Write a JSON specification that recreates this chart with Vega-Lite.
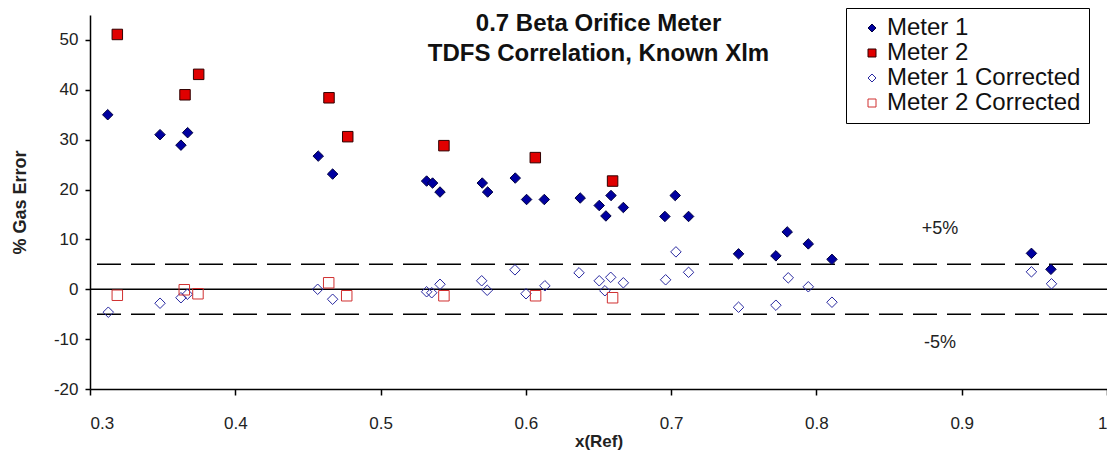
{
  "$schema": "https://vega.github.io/schema/vega-lite/v6.json",
  "width": 1017,
  "height": 374,
  "autosize": {"type": "none"},
  "padding": {"left": 90, "top": 15, "right": 0, "bottom": 64},
  "background": "white",
  "config": {
    "font": "Liberation Sans",
    "view": {"stroke": null},
    "axis": {"grid": false, "domainColor": "black", "tickColor": "black", "labelColor": "#222", "labelFont": "Liberation Sans", "titleFont": "Liberation Sans", "titleColor": "#222"}
  },
  "title": {
    "text": ["0.7 Beta Orifice Meter", "TDFS Correlation, Known Xlm"],
    "anchor": "middle",
    "frame": "group",
    "baseline": "top",
    "offset": -2,
    "dy": 56,
    "fontSize": 24,
    "lineHeight": 30,
    "fontWeight": "bold",
    "font": "Liberation Sans",
    "color": "#111"
  },
  "layer": [
    {
      "data": {"values": [{"y": 0}]},
      "mark": {"type": "rule", "color": "black", "strokeWidth": 1.5},
      "encoding": {"y": {"field": "y", "type": "quantitative"}}
    },
    {
      "data": {"values": [{"y": 5}, {"y": -5}]},
      "mark": {"type": "rule", "color": "black", "strokeWidth": 1.5, "strokeDash": [24, 10]},
      "encoding": {"y": {"field": "y", "type": "quantitative"}}
    },
    {
      "data": {"values": [{"x": 0.885, "y": 12, "t": "+5%"}, {"x": 0.885, "y": -10.7, "t": "-5%"}]},
      "mark": {"type": "text", "fontSize": 18, "color": "#222", "font": "Liberation Sans"},
      "encoding": {
        "x": {"field": "x", "type": "quantitative"},
        "y": {"field": "y", "type": "quantitative"},
        "text": {"field": "t"}
      }
    },
    {
      "data": {"values": [
        {"x": 0.3122, "y": 35.0, "series": "Meter 1"},
        {"x": 0.3482, "y": 31.0, "series": "Meter 1"},
        {"x": 0.3626, "y": 28.9, "series": "Meter 1"},
        {"x": 0.3672, "y": 31.4, "series": "Meter 1"},
        {"x": 0.4571, "y": 26.7, "series": "Meter 1"},
        {"x": 0.4670, "y": 23.1, "series": "Meter 1"},
        {"x": 0.5317, "y": 21.7, "series": "Meter 1"},
        {"x": 0.5358, "y": 21.3, "series": "Meter 1"},
        {"x": 0.5409, "y": 19.5, "series": "Meter 1"},
        {"x": 0.5700, "y": 21.3, "series": "Meter 1"},
        {"x": 0.5737, "y": 19.5, "series": "Meter 1"},
        {"x": 0.5927, "y": 22.3, "series": "Meter 1"},
        {"x": 0.6005, "y": 18.0, "series": "Meter 1"},
        {"x": 0.6127, "y": 18.0, "series": "Meter 1"},
        {"x": 0.6374, "y": 18.3, "series": "Meter 1"},
        {"x": 0.6505, "y": 16.8, "series": "Meter 1"},
        {"x": 0.6551, "y": 14.7, "series": "Meter 1"},
        {"x": 0.6586, "y": 18.8, "series": "Meter 1"},
        {"x": 0.6671, "y": 16.4, "series": "Meter 1"},
        {"x": 0.6957, "y": 14.6, "series": "Meter 1"},
        {"x": 0.7028, "y": 18.8, "series": "Meter 1"},
        {"x": 0.7120, "y": 14.6, "series": "Meter 1"},
        {"x": 0.7464, "y": 7.1, "series": "Meter 1"},
        {"x": 0.7721, "y": 6.7, "series": "Meter 1"},
        {"x": 0.7799, "y": 11.5, "series": "Meter 1"},
        {"x": 0.7944, "y": 9.1, "series": "Meter 1"},
        {"x": 0.8107, "y": 6.0, "series": "Meter 1"},
        {"x": 0.9480, "y": 7.2, "series": "Meter 1"},
        {"x": 0.9614, "y": 4.0, "series": "Meter 1"},
        {"x": 0.3188, "y": 51.1, "series": "Meter 2"},
        {"x": 0.3654, "y": 39.0, "series": "Meter 2"},
        {"x": 0.3748, "y": 43.1, "series": "Meter 2"},
        {"x": 0.4645, "y": 38.4, "series": "Meter 2"},
        {"x": 0.4774, "y": 30.6, "series": "Meter 2"},
        {"x": 0.5436, "y": 28.8, "series": "Meter 2"},
        {"x": 0.6065, "y": 26.4, "series": "Meter 2"},
        {"x": 0.6597, "y": 21.7, "series": "Meter 2"},
        {"x": 0.3126, "y": -4.6, "series": "Meter 1 Corrected"},
        {"x": 0.3482, "y": -2.8, "series": "Meter 1 Corrected"},
        {"x": 0.3626, "y": -1.7, "series": "Meter 1 Corrected"},
        {"x": 0.3670, "y": -1.0, "series": "Meter 1 Corrected"},
        {"x": 0.4567, "y": 0.0, "series": "Meter 1 Corrected"},
        {"x": 0.4670, "y": -2.0, "series": "Meter 1 Corrected"},
        {"x": 0.5317, "y": -0.5, "series": "Meter 1 Corrected"},
        {"x": 0.5352, "y": -0.7, "series": "Meter 1 Corrected"},
        {"x": 0.5409, "y": 1.0, "series": "Meter 1 Corrected"},
        {"x": 0.5696, "y": 1.7, "series": "Meter 1 Corrected"},
        {"x": 0.5734, "y": -0.2, "series": "Meter 1 Corrected"},
        {"x": 0.5925, "y": 3.9, "series": "Meter 1 Corrected"},
        {"x": 0.6001, "y": -0.9, "series": "Meter 1 Corrected"},
        {"x": 0.6131, "y": 0.7, "series": "Meter 1 Corrected"},
        {"x": 0.6366, "y": 3.3, "series": "Meter 1 Corrected"},
        {"x": 0.6505, "y": 1.7, "series": "Meter 1 Corrected"},
        {"x": 0.6544, "y": -0.3, "series": "Meter 1 Corrected"},
        {"x": 0.6584, "y": 2.4, "series": "Meter 1 Corrected"},
        {"x": 0.6671, "y": 1.3, "series": "Meter 1 Corrected"},
        {"x": 0.6962, "y": 1.9, "series": "Meter 1 Corrected"},
        {"x": 0.7033, "y": 7.5, "series": "Meter 1 Corrected"},
        {"x": 0.7120, "y": 3.4, "series": "Meter 1 Corrected"},
        {"x": 0.7464, "y": -3.6, "series": "Meter 1 Corrected"},
        {"x": 0.7721, "y": -3.2, "series": "Meter 1 Corrected"},
        {"x": 0.7806, "y": 2.3, "series": "Meter 1 Corrected"},
        {"x": 0.7944, "y": 0.5, "series": "Meter 1 Corrected"},
        {"x": 0.8107, "y": -2.6, "series": "Meter 1 Corrected"},
        {"x": 0.9480, "y": 3.5, "series": "Meter 1 Corrected"},
        {"x": 0.9618, "y": 1.1, "series": "Meter 1 Corrected"},
        {"x": 0.3188, "y": -1.2, "series": "Meter 2 Corrected"},
        {"x": 0.3649, "y": -0.1, "series": "Meter 2 Corrected"},
        {"x": 0.3743, "y": -0.9, "series": "Meter 2 Corrected"},
        {"x": 0.4643, "y": 1.3, "series": "Meter 2 Corrected"},
        {"x": 0.4767, "y": -1.3, "series": "Meter 2 Corrected"},
        {"x": 0.5436, "y": -1.3, "series": "Meter 2 Corrected"},
        {"x": 0.6067, "y": -1.3, "series": "Meter 2 Corrected"},
        {"x": 0.6597, "y": -1.7, "series": "Meter 2 Corrected"}
      ]},
      "mark": {"type": "point", "size": 110, "strokeWidth": 1, "opacity": 1},
      "encoding": {
        "x": {
          "field": "x", "type": "quantitative",
          "scale": {"domain": [0.3, 1.0], "nice": false, "zero": false},
          "axis": {"values": [0.3, 0.4, 0.5, 0.6, 0.7, 0.8, 0.9, 1.0], "format": "~g", "title": "x(Ref)", "labelFontSize": 17, "labelPadding": 20, "tickSize": 6, "titleFontSize": 17, "titleFontWeight": "bold", "titlePadding": 2, "domainWidth": 1.5, "tickWidth": 1.5}
        },
        "y": {
          "field": "y", "type": "quantitative",
          "scale": {"domain": [-20, 55], "nice": false, "zero": false},
          "axis": {"values": [-20, -10, 0, 10, 20, 30, 40, 50], "labelExpr": "replace(datum.label, '\u2212', '-')", "title": "% Gas Error", "labelFontSize": 17, "labelPadding": 7, "tickSize": 5, "titleFontSize": 18, "titleFontWeight": "bold", "titlePadding": 24, "domainWidth": 1.5, "tickWidth": 1.5}
        },
        "shape": {
          "field": "series", "type": "nominal",
          "scale": {"domain": ["Meter 1", "Meter 2", "Meter 1 Corrected", "Meter 2 Corrected"], "range": ["diamond", "square", "diamond", "square"]},
          "legend": {"title": null}
        },
        "fill": {
          "field": "series", "type": "nominal",
          "scale": {"domain": ["Meter 1", "Meter 2", "Meter 1 Corrected", "Meter 2 Corrected"], "range": ["#0000A0", "#E00000", "transparent", "transparent"]},
          "legend": {"title": null}
        },
        "stroke": {
          "field": "series", "type": "nominal",
          "scale": {"domain": ["Meter 1", "Meter 2", "Meter 1 Corrected", "Meter 2 Corrected"], "range": ["#000040", "#300000", "#2828A0", "#D03030"]},
          "legend": {
            "title": null,
            "orient": "none",
            "legendX": 756,
            "legendY": -7,
            "padding": 8,
            "strokeColor": "black",
            "fillColor": "white",
            "labelFontSize": 24,
            "labelFont": "Liberation Sans",
            "labelColor": "#111",
            "labelLimit": 400,
            "symbolSize": 64,
            "symbolOffset": 6,
            "labelOffset": 3,
            "rowPadding": 1,
            "symbolStrokeWidth": 1
          }
        }
      }
    }
  ]
}
